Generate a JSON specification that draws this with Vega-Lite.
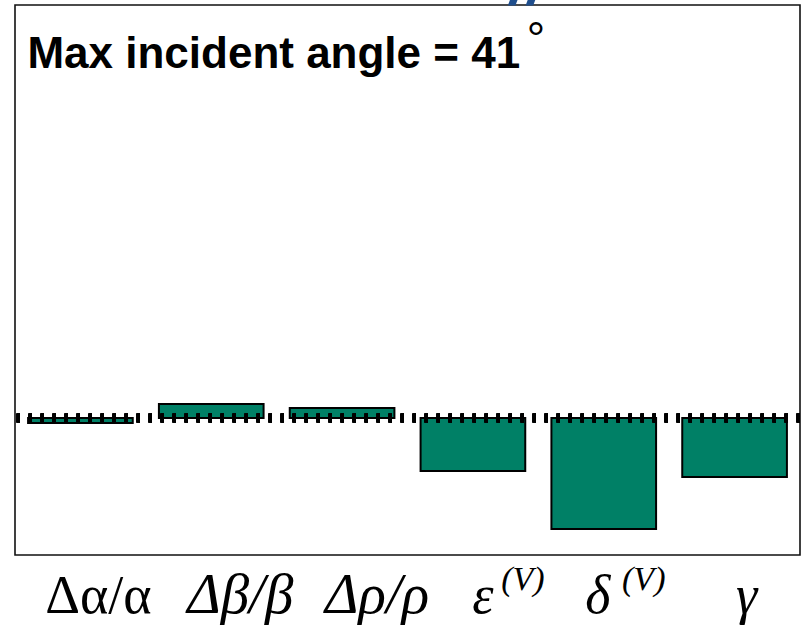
{
  "$schema": "https://vega.github.io/schema/vega-lite/v6.json",
  "autosize": "none",
  "width": 785,
  "height": 550,
  "padding": {"left": 15, "top": 5, "right": 7, "bottom": 71},
  "background": "white",
  "config": {
    "view": {"stroke": "#111111", "strokeWidth": 1.6},
    "font": "Liberation Sans"
  },
  "data": {
    "values": [
      {"param": "Δα/α", "sensitivity": -5},
      {"param": "Δβ/β", "sensitivity": 14},
      {"param": "Δρ/ρ", "sensitivity": 10},
      {"param": "ε", "sensitivity": -53},
      {"param": "δ", "sensitivity": -111},
      {"param": "γ", "sensitivity": -59}
    ]
  },
  "encoding": {
    "x": {
      "field": "param",
      "type": "nominal",
      "sort": null,
      "scale": {"paddingInner": 0.2, "paddingOuter": 0.1},
      "axis": {
        "title": null,
        "domain": false,
        "ticks": false,
        "labelAngle": 0,
        "labelFont": "Liberation Serif",
        "labelFontSize": {
          "condition": {"test": "datum.value === 'Δβ/β' || datum.value === 'Δρ/ρ'", "value": 57},
          "value": 54
        },
        "labelColor": "#000000",
        "labelBaseline": "alphabetic",
        "labelPadding": 57,
        "labelFontStyle": {
          "condition": {"test": "datum.value === 'Δα/α'", "value": "normal"},
          "value": "italic"
        },
        "labelOffset": {
          "condition": [
            {"test": "datum.value === 'Δα/α'", "value": 18},
            {"test": "datum.value === 'Δβ/β'", "value": 29},
            {"test": "datum.value === 'Δρ/ρ'", "value": 35},
            {"test": "datum.value === 'ε'", "value": 10},
            {"test": "datum.value === 'δ'", "value": -6}
          ],
          "value": 12
        }
      }
    },
    "y": {
      "type": "quantitative",
      "scale": {"domain": [-137, 413], "nice": false, "zero": false},
      "axis": null
    }
  },
  "layer": [
    {
      "mark": {"type": "bar", "fill": "#008066", "stroke": "#000000", "strokeWidth": 2},
      "encoding": {
        "y": {"field": "sensitivity", "type": "quantitative"},
        "y2": {"datum": 0}
      }
    },
    {
      "mark": {"type": "rule", "color": "#000000", "strokeWidth": 9, "strokeDash": [3.5, 8.5]},
      "encoding": {"x": null, "y": {"datum": 0}}
    },
    {
      "transform": [{"filter": "datum.param === 'ε'"}],
      "mark": {"type": "text", "text": "(V)", "font": "Liberation Serif", "fontStyle": "italic", "fontSize": 34, "align": "center", "baseline": "alphabetic", "dx": 50, "color": "#000000"},
      "encoding": {"y": {"datum": -172}}
    },
    {
      "transform": [{"filter": "datum.param === 'δ'"}],
      "mark": {"type": "text", "text": "(V)", "font": "Liberation Serif", "fontStyle": "italic", "fontSize": 34, "align": "center", "baseline": "alphabetic", "dx": 40, "color": "#000000"},
      "encoding": {"y": {"datum": -172}}
    },
    {
      "transform": [{"filter": "datum.param === 'Δα/α'"}],
      "mark": {"type": "text", "text": "Max incident angle = 41", "font": "Liberation Sans", "fontWeight": "bold", "fontSize": 44, "align": "left", "baseline": "alphabetic", "dx": -53, "color": "#000000"},
      "encoding": {"y": {"datum": 350}}
    },
    {
      "transform": [{"filter": "datum.param === 'ε'"}],
      "mark": {"type": "text", "text": "°", "font": "Liberation Sans", "fontSize": 46, "align": "center", "baseline": "alphabetic", "dx": 63, "color": "#000000"},
      "encoding": {"y": {"datum": 363}}
    },
    {
      "transform": [{"filter": "datum.param === 'ε'"}],
      "mark": {"type": "text", "text": "//", "font": "Liberation Sans", "fontWeight": "bold", "fontStyle": "italic", "fontSize": 64, "align": "center", "baseline": "alphabetic", "dx": 55, "color": "#1f4e8c"},
      "encoding": {"y": {"datum": 414}}
    }
  ]
}
